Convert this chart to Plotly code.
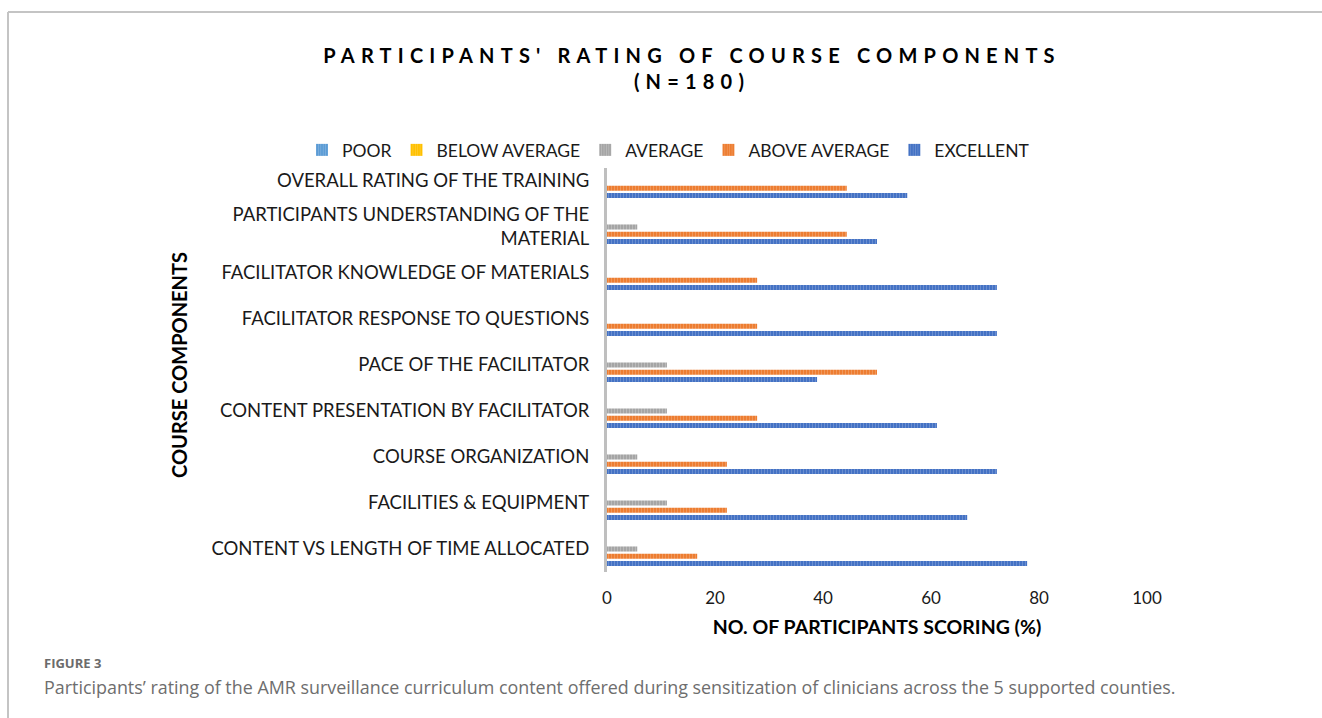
import plotly.graph_objects as go

categories = [
    "CONTENT VS LENGTH OF TIME ALLOCATED",
    "FACILITIES & EQUIPMENT",
    "COURSE ORGANIZATION",
    "CONTENT PRESENTATION BY FACILITATOR",
    "PACE OF THE FACILITATOR",
    "FACILITATOR RESPONSE TO QUESTIONS",
    "FACILITATOR KNOWLEDGE OF MATERIALS",
    "PARTICIPANTS UNDERSTANDING OF THE<br>MATERIAL",
    "OVERALL RATING OF THE TRAINING",
]
poor = [0, 0, 0, 0, 0, 0, 0, 0, 0]
below_average = [0, 0, 0, 0, 0, 0, 0, 0, 0]
average = [5.6, 11.1, 5.6, 11.1, 11.1, 0, 0, 5.6, 0]
above_average = [16.7, 22.2, 22.2, 27.8, 50.0, 27.8, 27.8, 44.4, 44.4]
excellent = [77.8, 66.7, 72.2, 61.1, 38.9, 72.2, 72.2, 50.0, 55.6]

series_names = ["POOR", "BELOW AVERAGE", "AVERAGE", "ABOVE AVERAGE", "EXCELLENT"]
series_values = [poor, below_average, average, above_average, excellent]
colors = ["#5B9BD5", "#FFC000", "#A5A5A5", "#ED7D31", "#4472C4"]
light = ["#9DC3E6", "#FFD966", "#D0D0D0", "#F4B183", "#8FAADC"]

FONT = "Lato"

fig = go.Figure()
# plotly draws the first trace at the bottom of each group -> add in reverse
for name, vals, c, lc in reversed(list(zip(series_names, series_values, colors, light))):
    fig.add_trace(go.Bar(
        y=categories, x=vals, name=name, orientation="h",
        marker=dict(color=c, line=dict(width=0),
                    pattern=dict(shape="|", size=3, solidity=0.35,
                                 fgcolor=lc, bgcolor=c)),
    ))

L, R, T, B = 607, 1147, 158, 572
W, H = 1322, 718
pw, ph = R - L, B - T

def px(x):
    return (x - L) / pw

def py(y):
    return (B - y) / ph

fig.update_layout(
    width=W, height=H,
    margin=dict(l=L, r=W - R, t=T, b=H - B, autoexpand=False),
    paper_bgcolor="white", plot_bgcolor="white",
    barmode="group", bargap=0.21, bargroupgap=0.3,
    font=dict(family=FONT, size=18.5, color="#1a1a1a"),
    title=dict(
        text="<b>PARTICIPANTS' RATING OF COURSE COMPONENTS<br>(N=180)</b>",
        x=692 / W, xanchor="center", xref="container",
        y=1 - 63 / H, yanchor="middle", yref="container",
        font=dict(family=FONT, size=20, color="#000000"),
    ),
    legend=dict(
        orientation="h", traceorder="reversed",
        xref="paper", yref="paper",
        x=px(302), xanchor="left", y=py(150), yanchor="middle",
        font=dict(family=FONT, size=17.5, color="#1a1a1a"),
        itemwidth=30, tracegroupgap=0,
    ),
    xaxis=dict(
        range=[0, 100], tickvals=[0, 20, 40, 60, 80, 100],
        showgrid=False, zeroline=False, showline=False,
        ticks="", ticklabelstandoff=14,
        tickfont=dict(family=FONT, size=17, color="#1a1a1a"),
        title=dict(text="<b>NO. OF PARTICIPANTS SCORING (%)</b>",
                   font=dict(family=FONT, size=19.5, color="#000000"), standoff=13),
        fixedrange=True,
    ),
    yaxis=dict(
        showgrid=False, zeroline=False, showline=True,
        linecolor="#BFBFBF", linewidth=3, ticks="", ticklabelstandoff=11,
        tickfont=dict(family=FONT, size=18.5, color="#1a1a1a"),
        title=dict(text="<b>COURSE COMPONENTS</b>",
                   font=dict(family=FONT, size=20, color="#000000"), standoff=19),
        fixedrange=True,
    ),
    showlegend=True,
)

# figure frame (top and left rules)
fig.add_shape(type="line", xref="paper", yref="paper",
              x0=px(8), x1=px(1322), y0=py(12), y1=py(12),
              line=dict(color="#C4C4C4", width=2))
fig.add_shape(type="line", xref="paper", yref="paper",
              x0=px(8), x1=px(8), y0=py(12), y1=py(718),
              line=dict(color="#C4C4C4", width=2))

fig.add_annotation(xref="paper", yref="paper", x=px(42), y=py(663),
                   xanchor="left", yanchor="middle", showarrow=False,
                   text="<b>FIGURE 3</b>",
                   font=dict(family="Open Sans", size=13, color="#6b6b6b"))
fig.add_annotation(xref="paper", yref="paper", x=px(42), y=py(687),
                   xanchor="left", yanchor="middle", showarrow=False,
                   text="Participants’ rating of the AMR surveillance curriculum content offered during sensitization of clinicians across the 5 supported counties.",
                   font=dict(family="Open Sans", size=17.9, color="#6e6e6e"))

post = """
document.body.style.margin = '0';
document.body.style.padding = '0';
var t = document.querySelectorAll('.gtitle');
t.forEach(function(el){ el.style.letterSpacing = '6.2px'; });
"""
fig.write_html("out.html", post_script=post, config={"displayModeBar": False})
